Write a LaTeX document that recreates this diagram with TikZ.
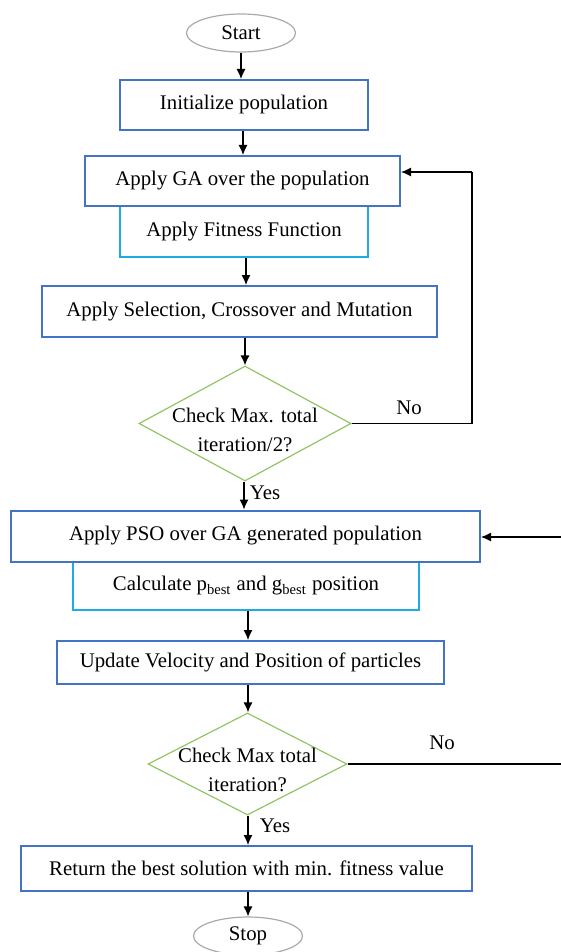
\documentclass[tikz,border=0pt]{standalone}
\usepackage{fontspec}
\setmainfont{Liberation Serif}
\usetikzlibrary{shapes.geometric,arrows.meta,calc}
\definecolor{boxblue}{RGB}{68,114,196}
\definecolor{boxcyan}{RGB}{32,170,228}
\definecolor{diagreen}{RGB}{146,196,100}
\definecolor{ovalgray}{RGB}{170,170,170}

\begin{document}
\begin{tikzpicture}[x=0.5pt,y=-0.5pt,
		font=\fontsize{10.4}{14.5}\selectfont,
		oval/.style={ellipse,draw=ovalgray,line width=0.6pt,minimum width=54.5pt,minimum height=19pt,inner sep=0pt},
		stepbox/.style={rectangle,draw=boxblue,line width=1pt,inner sep=0pt,align=center},
		subbox/.style={rectangle,draw=boxcyan,line width=1pt,inner sep=0pt,align=center},
		check/.style={diamond,draw=diagreen,line width=0.6pt,inner sep=-6pt,text height=28pt,align=center},
		flow/.style={-{Latex[length=5pt,width=4.5pt]},line width=0.6pt}]
			\useasboundingbox (0,0) rectangle (561,952);
			\node[oval] (start) at (241,33) {Start};
			\node[stepbox,minimum width=124pt,minimum height=25pt] (init) at (244,105) {Initialize population};
			\node[subbox,minimum width=124pt,minimum height=25.5pt] (fit) at (244,231.5) {Apply Fitness Function};
			\node[stepbox,minimum width=157.5pt,minimum height=25pt,fill=white] (ga) at (242.5,181) {Apply GA over the population};
			\node[stepbox,minimum width=197.5pt,minimum height=25.5pt] (sel) at (239.5,311.5) {Apply Selection, Crossover and Mutation};
			\node[check,shape aspect=1.84,minimum width=106pt,minimum height=57.5pt] (half) at (245,423.5) {Check Max. total\\iteration/2?};
			\node[subbox,minimum width=173pt,minimum height=24pt] (best) at (246,586) {Calculate p\textsubscript{best} and g\textsubscript{best} position};
			\node[stepbox,minimum width=234.5pt,minimum height=25.5pt,fill=white] (pso) at (245.5,536) {Apply PSO over GA generated population};
			\node[stepbox,minimum width=193.5pt,minimum height=21.5pt] (upd) at (250.5,662.5) {Update Velocity and Position of particles};
			\node[check,shape aspect=1.95,minimum width=99.5pt,minimum height=51pt] (full) at (247.5,764) {Check Max total\\iteration?};
			\node[stepbox,minimum width=225.5pt,minimum height=22.5pt] (ret) at (246.5,868.5) {Return the best solution with min. fitness value};
			\node[oval] (stop) at (248,936) {Stop};
			\node (no1) at (409,408) {No};
			\node (yes1) at (265,493) {Yes};
			\node (no2) at (442,743) {No};
			\node (yes2) at (275,826) {Yes};
			\coordinate (loopga) at (472,172);
			\coordinate (looppso) at (570,537);
			\foreach \from/\to/\x in {start/init/241, init/ga/243, fit/sel/246, sel/half/245, half/pso/244, best/upd/248, upd/full/248, full/ret/248, ret/stop/248}
				{\draw[flow] (\x,0 |- \from.south) -- (\x,0 |- \to.north);};
			\draw[line width=0.6pt] (half.east) -| (loopga);
			\draw[flow] (loopga) -- (loopga -| ga.east);
			\draw[line width=0.6pt] (full.east) -| (looppso);
			\draw[flow] (looppso) -- (looppso -| pso.east);
		\end{tikzpicture}
\end{document}
